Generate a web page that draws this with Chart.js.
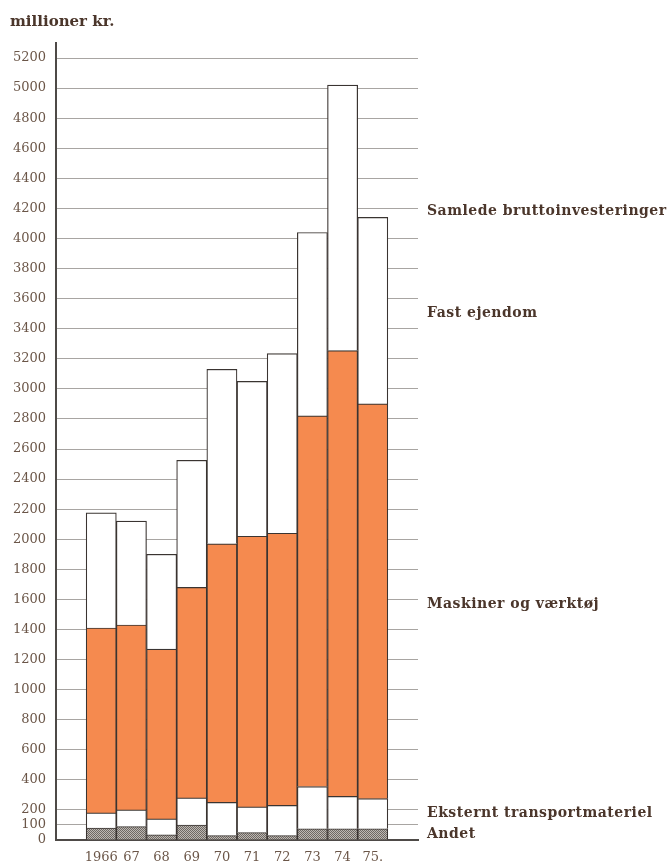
<!DOCTYPE html>
<html>
<head>
<meta charset="utf-8">
<script src="https://cdn.jsdelivr.net/npm/chart.js@4.4.0/dist/chart.umd.min.js"></script>
<style>
html,body{margin:0;padding:0;background:#fff;}
#wrap{width:671px;height:868px;position:relative;}
</style>
</head>
<body>
<div id="wrap"><canvas id="c" width="671" height="868"></canvas></div>
<script>
// ---- data (millioner kr.) ----
const years = ['1966', '67', '68', '69', '70', '71', '72', '73', '74', '75.'];
const andet = [80, 90, 35, 100, 30, 50, 30, 75, 75, 75];
const eksternt = [100, 110, 105, 180, 220, 170, 200, 280, 215, 200];
const maskiner = [1230, 1230, 1130, 1400, 1720, 1800, 1810, 2465, 2965, 2625];
const fastEjendom = [765, 690, 630, 845, 1160, 1030, 1195, 1220, 1765, 1240];
const yTicks = [0, 100, 200, 400, 600, 800, 1000, 1200, 1400, 1600, 1800, 2000, 2200, 2400,
  2600, 2800, 3000, 3200, 3400, 3600, 3800, 4000, 4200, 4400, 4600, 4800, 5000, 5200];
const seriesNames = ['Andet', 'Eksternt transportmateriel', 'Maskiner og værktøj', 'Fast ejendom'];
const totalName = 'Samlede bruttoinvesteringer';
const unitLabel = 'millioner kr.';

// ---- helpers ----
const pad = a => [null, ...a, null];
const labels = ['', ...years, ''];

function stipple() {
  const p = document.createElement('canvas');
  p.width = 2; p.height = 2;
  const g = p.getContext('2d');
  g.fillStyle = '#bdb8b3'; g.fillRect(0, 0, 2, 2);
  g.fillStyle = '#6e6863'; g.fillRect(0, 0, 1, 1); g.fillRect(1, 1, 1, 1);
  return g.createPattern(p, 'repeat');
}
const ctx = document.getElementById('c').getContext('2d');
const edge = '#3a3431';
const textBrown = '#4b362b';
const tickBrown = '#6b5648';

const sideLabels = {
  id: 'sideLabels',
  afterDraw(chart) {
    const y = chart.scales.y;
    const x0 = chart.chartArea.right + 9;
    const items = [
      [totalName, 4182],
      [seriesNames[3], 3504],
      [seriesNames[2], 1569],
      [seriesNames[1], 180],
      [seriesNames[0], 40]
    ];
    const c = chart.ctx;
    c.save();
    c.font = 'bold 14px "DejaVu Serif"';
    if ('letterSpacing' in c) c.letterSpacing = '0.5px';
    c.fillStyle = textBrown;
    c.textAlign = 'left';
    c.textBaseline = 'middle';
    items.forEach(([t, v]) => c.fillText(t, x0, y.getPixelForValue(v)));
    c.restore();
  }
};

new Chart(ctx, {
  type: 'bar',
  data: {
    labels: labels,
    datasets: [
      { label: seriesNames[0], data: pad(andet), backgroundColor: stipple() },
      { label: seriesNames[1], data: pad(eksternt), backgroundColor: '#ffffff' },
      { label: seriesNames[2], data: pad(maskiner), backgroundColor: '#f58a4f' },
      { label: seriesNames[3], data: pad(fastEjendom), backgroundColor: '#ffffff' }
    ].map(d => Object.assign(d, {
      borderColor: edge, borderWidth: 1.2, borderSkipped: 'start',
      categoryPercentage: 1, barPercentage: 1
    }))
  },
  options: {
    responsive: false,
    animation: false,
    layout: { padding: { left: 10, right: 253, top: 0, bottom: 0 } },
    plugins: {
      legend: { display: false },
      tooltip: { enabled: false },
      title: {
        display: true, text: unitLabel, align: 'start', color: textBrown,
        font: { family: 'DejaVu Serif', weight: 'bold', size: 15 },
        padding: { top: 13, bottom: 12 }
      }
    },
    scales: {
      x: {
        stacked: true, offset: true,
        grid: { display: false },
        border: { display: true, color: '#4e4a47', width: 2 },
        ticks: { color: tickBrown, font: { family: 'DejaVu Serif', size: 13 }, maxRotation: 0, autoSkip: false, padding: 2 },
        afterFit: s => { s.height = 28; }
      },
      y: {
        stacked: true, min: 0, max: 5300,
        afterBuildTicks: s => { s.ticks = yTicks.map(v => ({ value: v })); },
        grid: { color: '#a8a5a2', lineWidth: 1, drawTicks: false },
        border: { display: true, color: '#4e4a47', width: 2 },
        ticks: {
          color: tickBrown, font: { family: 'DejaVu Serif', size: 13 }, padding: 10,
          callback: v => String(v)
        },
        afterFit: s => { s.width = 46; }
      }
    }
  },
  plugins: [sideLabels]
});
</script>
</body>
</html>
